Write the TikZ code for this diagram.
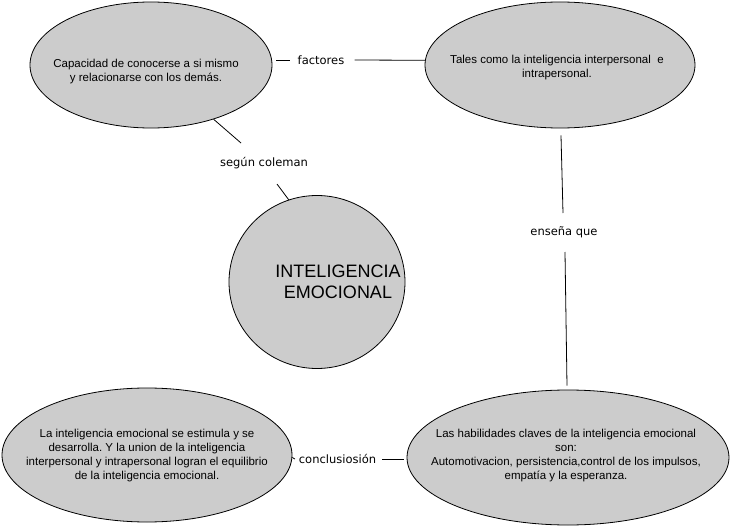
\documentclass[tikz,border=0pt]{standalone}
\usepackage{fontspec}
\setmainfont{Liberation Sans}
\newfontfamily\labfont{DejaVu Sans}
\usetikzlibrary{shapes.geometric}
\definecolor{ovfill}{RGB}{204,204,204}
\frenchspacing
\begin{document}
\begin{tikzpicture}[x=1pt,y=-1pt,
  oval/.style={ellipse, draw=black, line width=0.8pt, fill=ovfill, inner sep=0pt},
  otext/.style={align=center, font=\fontsize{11.5}{14}\selectfont, inner sep=0pt},
  bigtext/.style={align=center, font=\fontsize{18}{20.5}\selectfont, inner sep=0pt},
  lab/.style={font=\labfont\fontsize{11.5}{14}\selectfont, inner sep=0pt},
  conn/.style={draw=black, line width=0.8pt}]
\useasboundingbox (0,0) rectangle (732,527);
% ovals
\node[oval, minimum width=242pt, minimum height=126pt] (e1) at (151,65) {};
\node[oval, minimum width=270pt, minimum height=126pt] (e2) at (560,65) {};
\node[oval, minimum width=176pt, minimum height=173pt] (emo) at (317,282) {};
\node[oval, minimum width=290pt, minimum height=134pt] (e4) at (147,455) {};
\node[oval, minimum width=322pt, minimum height=135pt] (e5) at (568,457.5) {};
% texts
\node[otext] (t1) at (146,72) {Capacidad de conocerse a si mismo\\ y relacionarse con los demás.};
\node[otext] (t2) at (557,68) {Tales como la inteligencia interpersonal~ e\\intrapersonal.};
\node[bigtext] (temo) at (338,282) {INTELIGENCIA\\ EMOCIONAL};
\node[otext] (t4) at (147,456) {La inteligencia emocional se estimula y se\\desarrolla. Y la union de la inteligencia\\interpersonal y intrapersonal logran el equilibrio\\de la inteligencia emocional.};
\node[otext] (t5) at (566,456) {Las habilidades claves de la inteligencia emocional\\son:\\Automotivacion, persistencia,control de los impulsos,\\empatía y la esperanza.};
% labels
\node[lab] (fac) at (321,60) {factores};
\node[lab] (seg) at (264,163) {según coleman};
\node[lab] (ens) at (564,232) {enseña que};
\node[lab] (con) at (337.5,459) {conclusiosión};
% connectors
\draw[conn] ([shift={(4,0)}]e1.east |- fac.center) -- ([shift={(-31.5,0)}]fac.center);
\draw[conn] ([shift={(33.5,0)}]fac.center) -- (e2.178.5);
\draw[conn] (e1) -- ([shift={(-23,-20)}]seg.center);
\draw[conn] (emo.109.5) -- ([shift={(13,21)}]seg.center);
\draw[conn] ([shift={(1,7)}]e2.south) -- ([shift={(-1,-19)}]ens.center);
\draw[conn] ([shift={(1,20)}]ens.center) -- ([shift={(-1,-4)}]e5.north);
\draw[conn] (e4.-1.5) -- ([shift={(-42.5,0)}]con.center);
\draw[conn] ([shift={(44.5,0)}]con.center) -- ([shift={(-3,0)}]e5.west |- con.center);
\end{tikzpicture}
\end{document}
